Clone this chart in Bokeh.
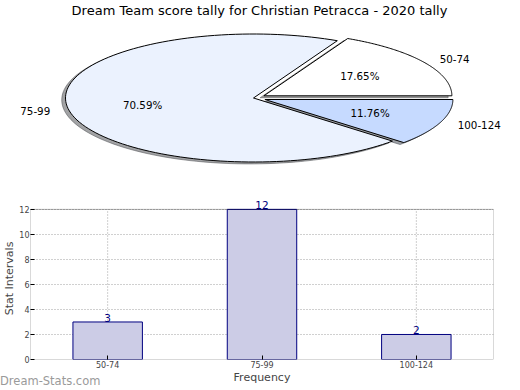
import numpy as np
from bokeh.plotting import figure
from bokeh.models import (Range1d, FactorRange, ColumnDataSource, Label, FixedTicker,
                          BoxAnnotation, Div)
from bokeh.core.properties import value
from bokeh.embed import file_html
from bokeh.resources import INLINE

# ---- data ----
title_text = "Dream Team score tally for Christian Petracca - 2020 tally"
categories = ["50-74", "75-99", "100-124"]
counts = [3, 12, 2]
pie_colors = ["#FFFFFF", "#EBF2FE", "#C6DAFF"]
explode = [0.065, 0.0, 0.065]
y_ticks = [0, 2, 4, 6, 8, 10, 12]
y_max = 12
x_label = "Frequency"
y_label = "Stat Intervals"
watermark = "Dream-Stats.com"

FONT = "DejaVu Sans"
W = 512

# ---- pie (elliptical, matplotlib-like) ----
RX, RY = 188.0, 64.0          # px per data unit in x / y
CX, CY = 253.0, 97.5           # pie centre in canvas px
PH = 196
pie = figure(width=W, height=PH, output_backend="svg", toolbar_location=None,
             x_range=Range1d(-CX / RX, (W - CX) / RX),
             y_range=Range1d(-(PH - CY) / RY, CY / RY),
             x_axis_location=None, y_axis_location=None, title=None,
             min_border=0, outline_line_color=None)
pie.grid.visible = False

total = float(sum(counts))
fracs = [c / total for c in counts]
start = 0.0
wedge_xs, wedge_ys, sh_xs, sh_ys, sh_cols = [], [], [], [], []
lab_x, lab_y, lab_align, pct_x, pct_y, pct_txt = [], [], [], [], [], []
for f, e, col in zip(fracs, explode, pie_colors):
    a0, a1 = start * 2 * np.pi, (start + f) * 2 * np.pi
    mid = (a0 + a1) / 2
    cx, cy = e * np.cos(mid), e * np.sin(mid)
    t = np.linspace(a0, a1, 120)
    xs = np.concatenate([[cx], cx + np.cos(t), [cx]])
    ys = np.concatenate([[cy], cy + np.sin(t), [cy]])
    wedge_xs.append(list(xs)); wedge_ys.append(list(ys))
    sh_xs.append(list(xs - 0.02)); sh_ys.append(list(ys - 0.03))
    rgb = [int(col[i:i + 2], 16) for i in (1, 3, 5)]
    sh_cols.append("#%02x%02x%02x" % tuple(int(v * 0.3) for v in rgb))
    lx = cx + 1.1 * np.cos(mid)
    lab_x.append(lx); lab_y.append(cy + 1.1 * np.sin(mid))
    lab_align.append("left" if lx > 0 else "right")
    pct_x.append(cx + 0.6 * np.cos(mid)); pct_y.append(cy + 0.6 * np.sin(mid))
    pct_txt.append("%.2f%%" % (f * 100))
    start += f

pie.patches(sh_xs, sh_ys, fill_color=sh_cols, fill_alpha=0.5,
            line_color=sh_cols, line_alpha=0.5, line_width=1)
pie.patches(wedge_xs, wedge_ys, fill_color=pie_colors, line_color="black", line_width=1)

lab_src = ColumnDataSource(dict(x=lab_x, y=lab_y, t=categories, a=lab_align))
pie.text(x="x", y="y", text="t", text_align="a", source=lab_src,
         text_baseline="middle", text_font=value(FONT),
         text_font_size="10.3px", text_color="black")
pct_src = ColumnDataSource(dict(x=pct_x, y=pct_y, t=pct_txt))
pie.text(x="x", y="y", text="t", source=pct_src, text_align="center",
         text_baseline="middle", text_font=value(FONT),
         text_font_size="10.3px", text_color="black")
pie.add_layout(Label(x=(259 - CX) / RX, y=(CY - 2) / RY, text=title_text,
                     text_align="center", text_baseline="top",
                     text_font=FONT, text_font_size="13px", text_color="black"))

# ---- bar chart ----
BH = 190
bar = figure(width=W, height=BH, output_backend="svg", toolbar_location=None,
             x_range=FactorRange(*categories, range_padding=0),
             y_range=Range1d(0, y_max + 0.95), title=None,
             min_border_top=1, min_border_right=19, min_border_left=0,
             min_border_bottom=0, outline_line_color=None)
src = ColumnDataSource(dict(x=categories, top=counts, t=[str(c) for c in counts],
                            zero=[0] * len(counts), ymax=[y_max] * len(counts)))
# vertical dotted grid at each category, bounded to the value range
bar.segment(x0="x", y0="zero", x1="x", y1="ymax", source=src,
            line_color="#a0a0a0", line_dash="1 2", line_width=1)
bar.xgrid.visible = False
bar.vbar(x="x", top="top", width=0.45, source=src, fill_color="#CCCCE6",
         line_color="navy", line_width=1)
bar.text(x="x", y="top", text="t", source=src,
         text_align="center", text_baseline="bottom", text_color="navy",
         text_font=value(FONT), text_font_size="10.5px")
bar.add_layout(BoxAnnotation(left=0, right=len(categories), bottom=0, top=y_max,
                             fill_color=None, line_color="black", line_width=1,
                             level="overlay"))
bar.yaxis.ticker = FixedTicker(ticks=y_ticks)
bar.yaxis.bounds = (0, y_max)
for ax in (bar.xaxis, bar.yaxis):
    ax.major_tick_in = 4
    ax.major_tick_out = 0
    ax.minor_tick_line_color = None
    ax.axis_line_color = None
    ax.major_label_text_font = FONT
    ax.major_label_text_font_size = "8px"
    ax.major_label_standoff = 1
    ax.axis_label_text_font = FONT
    ax.axis_label_text_font_size = "11px"
    ax.axis_label_text_font_style = "normal"
    ax.axis_label_standoff = 0
bar.xaxis.axis_label = x_label
bar.yaxis.axis_label = y_label
bar.ygrid.grid_line_color = "#a0a0a0"
bar.ygrid.grid_line_dash = "1 2"
bar.ygrid.grid_line_width = 1

# watermark, bottom-left corner of the page
wm = Div(text=watermark, width=110, height=16,
         styles={"position": "absolute", "left": "0px", "top": "373px",
                 "font-family": FONT, "font-size": "11.5px", "color": "#9a9a9a",
                 "margin": "0px", "padding": "0px"})

open("out.html", "w").write(file_html([pie, bar, wm], INLINE))
